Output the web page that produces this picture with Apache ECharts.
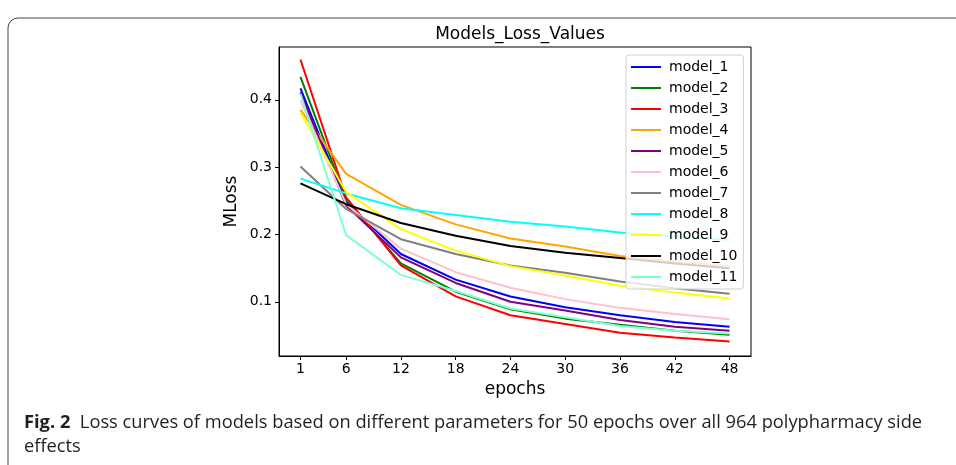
<!DOCTYPE html>
<html>
<head>
<meta charset="utf-8">
<script src="https://cdn.jsdelivr.net/npm/echarts@6/dist/echarts.min.js"></script>
<style>
html,body{margin:0;padding:0;background:#fff;}
#chart{width:956px;height:465px;}
</style>
</head>
<body>
<div id="chart"></div>
<script>
const epochs = [1, 6, 12, 18, 24, 30, 36, 42, 48];
const xTicks = [1, 6, 12, 18, 24, 30, 36, 42, 48];
const yTicks = [0.1, 0.2, 0.3, 0.4];
const seriesNames = ['model_1','model_2','model_3','model_4','model_5','model_6','model_7','model_8','model_9','model_10','model_11'];
const model_1  = [0.417, 0.248, 0.171, 0.133, 0.108, 0.092, 0.080, 0.070, 0.063];
const model_2  = [0.434, 0.252, 0.157, 0.115, 0.089, 0.075, 0.066, 0.057, 0.051];
const model_3  = [0.460, 0.255, 0.154, 0.108, 0.080, 0.067, 0.054, 0.047, 0.041];
const model_4  = [0.385, 0.290, 0.244, 0.215, 0.194, 0.182, 0.168, 0.160, 0.153];
const model_5  = [0.411, 0.243, 0.166, 0.128, 0.100, 0.087, 0.073, 0.063, 0.057];
const model_6  = [0.399, 0.245, 0.179, 0.144, 0.121, 0.104, 0.091, 0.082, 0.074];
const model_7  = [0.301, 0.238, 0.193, 0.171, 0.154, 0.143, 0.130, 0.120, 0.112];
const model_8  = [0.283, 0.261, 0.239, 0.229, 0.219, 0.212, 0.203, 0.197, 0.192];
const model_9  = [0.381, 0.263, 0.208, 0.176, 0.153, 0.139, 0.124, 0.114, 0.105];
const model_10 = [0.276, 0.245, 0.217, 0.198, 0.183, 0.173, 0.165, 0.157, 0.150];
const model_11 = [0.409, 0.199, 0.140, 0.116, 0.090, 0.077, 0.064, 0.057, 0.053];
const colors = ['#0000ff','#008000','#ff0000','#ffa500','#800080','#ffc0cb','#808080','#00ffff','#ffff00','#000000','#7fffd4'];
const allData = [model_1, model_2, model_3, model_4, model_5, model_6, model_7, model_8, model_9, model_10, model_11];

const chart = echarts.init(document.getElementById('chart'), null, {renderer: 'canvas'});
const font = 'DejaVu Sans';
const capFont = 'Open Sans';
const option = {
  animation: false,
  backgroundColor: '#fff',
  title: {
    text: 'Models_Loss_Values',
    left: 515, top: 21, textAlign: 'center',
    textStyle: {fontFamily: font, fontSize: 17, fontWeight: 'normal', color: '#000'}
  },
  grid: {left: 279, right: 205, top: 47, bottom: 109, show: true, borderColor: '#000', borderWidth: 1, backgroundColor: 'transparent'},
  legend: {
    data: seriesNames,
    orient: 'vertical',
    left: 626, top: 55,
    padding: [5, 6, 5, 5],
    itemWidth: 30, itemHeight: 14, itemGap: 7,
    backgroundColor: 'rgba(255,255,255,0.8)',
    borderColor: '#d0d0d0', borderWidth: 1, borderRadius: 3,
    textStyle: {fontFamily: font, fontSize: 14, color: '#000', padding: [0,0,0,3]},
    icon: 'path://M0,6 L30,6 L30,8 L0,8 Z'
  },
  xAxis: {
    type: 'value', min: -1.35, max: 50.35,
    name: 'epochs', nameLocation: 'middle', nameGap: 25,
    nameTextStyle: {fontFamily: font, fontSize: 17, color: '#000'},
    axisLine: {show: true, onZero: false, lineStyle: {color: '#000', width: 1}},
    axisTick: {show: true, length: 4, customValues: xTicks, lineStyle: {color: '#000'}},
    axisLabel: {customValues: xTicks, fontFamily: font, fontSize: 14, color: '#000', margin: 6},
    splitLine: {show: false}
  },
  yAxis: {
    type: 'value', min: 0.0195, max: 0.4785,
    name: 'MLoss', nameLocation: 'middle', nameGap: 39,
    nameTextStyle: {fontFamily: font, fontSize: 17, color: '#000'},
    axisLine: {show: true, onZero: false, lineStyle: {color: '#000', width: 1}},
    axisTick: {show: true, length: 4, customValues: yTicks, lineStyle: {color: '#000'}},
    axisLabel: {customValues: yTicks, fontFamily: font, fontSize: 14, color: '#000', margin: 7, formatter: v => v.toFixed(1)},
    splitLine: {show: false}
  },
  series: seriesNames.map((n, i) => ({
    name: n, type: 'line', symbol: 'none', smooth: false,
    data: epochs.map((e, j) => [e, allData[i][j]]),
    lineStyle: {color: colors[i], width: 2},
    itemStyle: {color: colors[i]},
    z: 2 + i * 0.01
  })),
  graphic: [
    {type: 'rect', shape: {x: 8, y: 18, width: 1000, height: 500, r: 10}, style: {fill: 'none', stroke: '#444', lineWidth: 1}, silent: true, z: 0},
    {type: 'text', left: 24, top: 414, style: {
      text: '{b|Fig. 2}  Loss curves of models based on different parameters for 50 epochs over all 964 polypharmacy side',
      rich: {b: {fontFamily: capFont, fontWeight: 'bold', fontSize: 18.3, fill: '#231f20'}},
      fontFamily: capFont, fontSize: 18.3, fill: '#231f20'}},
    {type: 'text', left: 24, top: 438, style: {text: 'effects', fontFamily: capFont, fontSize: 18.3, fill: '#231f20'}}
  ]
};
chart.setOption(option);
</script>
</body>
</html>
